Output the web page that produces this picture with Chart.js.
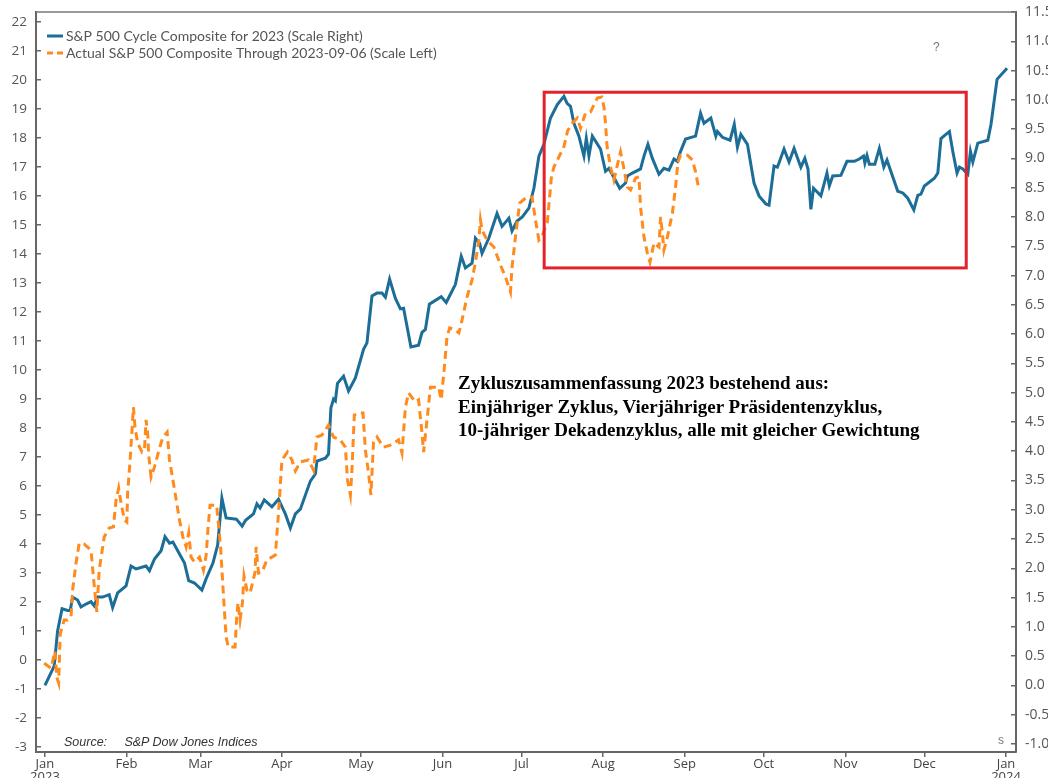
<!DOCTYPE html>
<html>
<head>
<meta charset="utf-8">
<title>S&P 500 Cycle Composite 2023</title>
<script src="https://cdn.jsdelivr.net/npm/chart.js@4.4.1/dist/chart.umd.min.js"></script>
<style>
  html, body { margin: 0; padding: 0; background: #fff; }
  #wrap { position: relative; width: 1048px; height: 778px; overflow: hidden; }
  #note {
    position: absolute; left: 458px; top: 371px;
    font: bold 19px "Liberation Serif", "Times New Roman", serif;
    line-height: 23.5px; color: #000; white-space: nowrap;
  }
  #source {
    position: absolute; left: 64px; top: 735px;
    font: italic 12.5px "Liberation Sans", Arial, sans-serif; color: #333;
    white-space: pre;
  }
  .stray { position: absolute; font: 12px "Liberation Sans", Arial, sans-serif; color: #777; }
</style>
</head>
<body>
<div id="wrap">
  <canvas id="cycleChart" width="1048" height="778"></canvas>
  <div id="note">Zykluszusammenfassung 2023 bestehend aus:<br>Einjähriger Zyklus, Vierjähriger Präsidentenzyklus,<br>10-jähriger Dekadenzyklus, alle mit gleicher Gewichtung</div>
  <div id="source">Source:     S&amp;P Dow Jones Indices</div>
  <div class="stray" style="left:933px; top:40px;">?</div>
  <div class="stray" style="left:998px; top:733px;">s</div>
</div>
<script>
// x values are day of year (0 = 1 Jan 2023)
const monthStarts = [0, 31, 59, 90, 120, 151, 181, 212, 243, 273, 304, 334, 365];
const monthLabels = ["Jan", "Feb", "Mar", "Apr", "May", "Jun", "Jul", "Aug", "Sep", "Oct", "Nov", "Dec", "Jan"];
const yearLabels = { 0: "2023", 12: "2024" };

const leftTicks = [-3, -2, -1, 0, 1, 2, 3, 4, 5, 6, 7, 8, 9, 10, 11, 12, 13, 14, 15, 16, 17, 18, 19, 20, 21, 22];
const rightTicks = [-1.0, -0.5, 0.0, 0.5, 1.0, 1.5, 2.0, 2.5, 3.0, 3.5, 4.0, 4.5, 5.0, 5.5, 6.0, 6.5, 7.0, 7.5, 8.0, 8.5, 9.0, 9.5, 10.0, 10.5, 11.0, 11.5];

// S&P 500 Cycle Composite for 2023 (scale right)
const cycleDays = [0, 3.5, 4.8, 6.5, 8.6, 9.6, 10.5, 12.4, 13.7, 15.6, 17.5, 18.7, 20, 21.9, 24.4, 25.7, 27.6, 30.8, 32.7, 34.6,
  38.4, 39.7, 41.6, 44.1, 45.6, 47.3, 48.6, 53, 54.6, 56.8, 59.6, 61.2, 63.8, 65.6, 67.2, 68.8, 72.7, 74.9, 76.2, 79.2,
  80.5, 81.7, 83.3, 86.2, 88.7, 91.3, 93.2, 95.1, 97, 100.8, 102.7, 103.3, 106.5, 107.7, 108.6, 109.6, 110.3, 111.1, 113.4, 115.3,
  117.9, 121, 122.3, 124.2, 126.1, 128, 129.3, 130.9, 133.1, 135, 136.2, 139, 141.9, 143.2, 144.5, 146, 150.5, 152.4, 154, 155.9,
  158.1, 159.7, 162.2, 163.5, 165.1, 166, 168.6, 171.7, 173.6, 176.2, 177.4, 179.3, 181.3, 183.8, 185.7, 187.6, 189.5, 192, 194.6, 197.1,
  198.3, 199.6, 200.9, 202.8, 204.7, 205.6, 206.6, 207.9, 211, 212.9, 214.2, 218.3, 220.5, 221.2, 223.1, 226.2, 227.5, 229, 230.7, 233.2,
  235.1, 237, 238.9, 240.2, 241.4, 243.3, 247.1, 249, 250.3, 252.9, 254.8, 255.4, 257.3, 260.2, 261.8, 263, 264.3, 266.8, 269.3, 271.2,
  273.8, 275, 276.9, 278.2, 280.7, 282.6, 284.5, 287.1, 288.6, 289.8, 290.9, 291.9, 294.7, 297, 297.9, 299.2, 302.3, 304.6, 307.4, 309.3,
  310.9, 311.4, 312.2, 313.1, 315.2, 316.9, 318.6, 319.8, 323.9, 325.8, 327.7, 330, 331.5, 332.7, 334, 337.8, 339.1, 340.3, 343.5, 344.8,
  346.4, 347.3, 348.6, 350.5, 351.5, 352.4, 354.3, 358.1, 359.3, 361.6, 365.4];
const cycleValues = [0.00, 0.33, 0.93, 1.31, 1.28, 1.28, 1.51, 1.46, 1.34, 1.39, 1.43, 1.36, 1.51, 1.51, 1.55, 1.33, 1.58, 1.70, 2.04, 1.99,
  2.04, 1.96, 2.16, 2.30, 2.54, 2.43, 2.45, 2.09, 1.79, 1.75, 1.63, 1.82, 2.09, 2.40, 3.20, 2.86, 2.84, 2.72, 2.82, 2.93,
  3.10, 3.03, 3.17, 3.05, 3.18, 2.93, 2.69, 2.93, 3.01, 3.49, 3.61, 3.83, 3.88, 3.95, 4.74, 4.89, 4.86, 5.16, 5.28, 5.03,
  5.25, 5.74, 5.85, 6.65, 6.70, 6.70, 6.63, 6.94, 6.61, 6.43, 6.44, 5.78, 5.81, 6.03, 6.08, 6.51, 6.64, 6.54, 6.68, 6.85,
  7.33, 7.13, 7.21, 7.64, 7.55, 7.38, 7.64, 8.06, 7.84, 7.98, 7.76, 7.93, 8.00, 8.15, 8.49, 9.04, 9.24, 9.69, 9.92, 10.06,
  9.94, 9.89, 9.60, 9.38, 9.04, 9.34, 9.04, 9.38, 9.16, 8.78, 8.83, 8.49, 8.58, 8.70, 8.75, 8.82, 9.04, 9.24, 9.00, 8.73,
  8.83, 8.80, 8.99, 8.95, 9.12, 9.33, 9.38, 9.77, 9.60, 9.69, 9.38, 9.46, 9.36, 9.31, 9.58, 9.19, 9.41, 9.24, 8.58, 8.36,
  8.22, 8.20, 8.87, 8.85, 9.16, 8.94, 9.17, 8.85, 9.00, 8.82, 8.13, 8.49, 8.36, 8.75, 8.53, 8.70, 8.71, 8.95, 8.95, 8.99,
  9.04, 8.92, 9.05, 8.90, 8.90, 9.17, 8.85, 8.97, 8.44, 8.41, 8.32, 8.12, 8.37, 8.39, 8.53, 8.66, 8.75, 9.34, 9.46, 9.12,
  8.75, 8.85, 8.82, 8.73, 9.12, 8.94, 9.26, 9.31, 9.58, 10.35, 10.54];

// Actual S&P 500 Composite through 2023-09-06 (scale left)
const actualDays = [-0.3, 2.3, 3.8, 4.5, 5.2, 5.8, 7.3, 8.6, 9.9, 10.5, 11.8, 13, 14.9, 17.5, 18.4, 19.7, 20.6, 22.5, 24.4, 26,
  27, 28, 28.9, 30.2, 31.1, 31.4, 32.3, 33, 33.6, 34.2, 35.2, 36.9, 37.8, 38.4, 39, 39.4, 40.3, 41.6, 43.5, 44.7,
  46.4, 47.3, 48.6, 51.1, 52.4, 53.6, 54.6, 55.5, 56.8, 58.7, 60.2, 61.2, 61.9, 62.7, 65.2, 66.7, 67.6, 68.8, 69.6, 72.2,
  72.7, 73.3, 74.1, 75, 75.6, 76.7, 77.9, 79.8, 80.2, 81.1, 82.4, 84.3, 87.5, 88.7, 90, 92.1, 93.8, 95.1, 97, 100.1,
  102, 103.3, 105.2, 107.7, 109.6, 112.2, 114.1, 114.9, 116, 116.6, 117.5, 119.5, 120.8, 121.7, 122.9, 123.8, 124.8, 126.1, 128.6, 131.2,
  134.3, 135.6, 136.9, 138.1, 140.7, 141.9, 143.2, 143.8, 145.1, 146.4, 149.5, 150.5, 151.5, 152.7, 153.7, 155.5, 157.2, 158.4, 160.3, 162.2,
  163.5, 164.8, 165.4, 166, 167.9, 170.5, 173, 174.9, 176.8, 177.4, 178.7, 180.3, 183.1, 185, 186.3, 187.6, 188.6, 190.8, 192.4, 193.3,
  195, 197.1, 198.5, 200.3, 202.2, 203.4, 205.3, 207.2, 208.5, 209.8, 211.5, 212.3, 212.9, 213.5, 214.8, 216.1, 217.4, 218.6, 219.6, 221.2,
  222.4, 224.3, 225.6, 226.2, 227.5, 228.8, 229.8, 231.3, 233.2, 233.8, 234.5, 235.1, 236.4, 238.3, 239.5, 240.4, 241.4, 244, 245.9, 247.1,
  248.4];
const actualValues = [-0.11, -0.28, 0.30, -0.60, -0.79, 0.90, 1.38, 1.38, 1.48, 2.41, 3.34, 4.03, 4.00, 3.79, 2.86, 1.66, 3.10, 4.24, 4.55, 4.59,
  5.52, 5.93, 5.41, 4.83, 4.76, 5.76, 6.83, 7.83, 8.72, 8.03, 7.48, 7.17, 7.24, 8.28, 7.83, 7.07, 6.31, 6.66, 7.31, 7.66,
  7.86, 6.90, 6.21, 4.83, 4.24, 3.90, 4.38, 3.55, 3.38, 3.55, 3.10, 3.60, 4.50, 5.34, 5.34, 3.90, 2.52, 0.79, 0.45, 0.45,
  1.28, 1.97, 1.38, 1.97, 2.90, 2.41, 2.31, 3.03, 3.90, 3.00, 3.03, 3.45, 3.62, 5.07, 6.90, 7.17, 6.90, 6.52, 6.83, 6.90,
  6.55, 7.69, 7.76, 8.10, 7.69, 7.59, 7.34, 6.21, 5.69, 6.55, 8.45, 8.52, 8.52, 7.24, 6.45, 5.69, 7.52, 7.69, 7.34, 7.41,
  7.59, 7.14, 8.72, 9.21, 8.90, 8.97, 7.83, 7.17, 8.28, 9.41, 9.41, 8.97, 9.90, 11.14, 11.45, 11.40, 11.28, 11.72, 12.52, 13.10,
  13.72, 14.48, 15.17, 14.83, 14.48, 14.24, 13.62, 13.21, 12.69, 13.55, 14.59, 15.76, 15.97, 15.97, 15.17, 14.48, 14.57, 15.10, 16.70, 17.00,
  17.31, 17.70, 18.25, 18.52, 18.69, 18.34, 18.86, 18.90, 19.14, 19.38, 19.41, 19.07, 18.50, 17.69, 17.00, 16.55, 17.07, 17.52, 17.07, 16.31,
  16.21, 16.62, 16.66, 15.62, 14.59, 14.03, 13.72, 14.38, 14.24, 15.28, 14.72, 14.14, 14.59, 15.41, 16.31, 17.17, 17.41, 17.41, 17.24, 16.83,
  16.21];

// highlighted window (days, right-scale levels)
const boxDays = [189.6, 349.9];
const boxLevels = [7.13, 10.13];

const BLUE = "#1c6d97";
const ORANGE = "#ff8a1d";

// the scales should not push the plot area around
function noScalePadding(s) {
  s.paddingTop = 0;
  s.paddingBottom = 0;
  s.paddingLeft = 0;
  s.paddingRight = 0;
}

const frameAndLegend = {
  id: "frameAndLegend",
  afterDatasetsDraw(chart) {
    const { ctx, chartArea, scales } = chart;
    ctx.save();
    // red box
    const x1 = scales.x.getPixelForValue(boxDays[0]);
    const x2 = scales.x.getPixelForValue(boxDays[1]);
    const y1 = scales.y1.getPixelForValue(boxLevels[1]);
    const y2 = scales.y1.getPixelForValue(boxLevels[0]);
    ctx.strokeStyle = "#e3232c";
    ctx.lineWidth = 3;
    ctx.strokeRect(x1, y1, x2 - x1, y2 - y1);
    // top frame line
    ctx.strokeStyle = "#777";
    ctx.lineWidth = 1.5;
    ctx.beginPath();
    ctx.moveTo(chartArea.left, chartArea.top);
    ctx.lineTo(chartArea.right, chartArea.top);
    ctx.stroke();
    // legend
    ctx.font = "14px Lato, 'Open Sans', sans-serif";
    ctx.textBaseline = "middle";
    ctx.fillStyle = "#555";
    chart.data.datasets.forEach((ds, i) => {
      const y = 36 + i * 17;
      ctx.strokeStyle = ds.borderColor;
      ctx.lineWidth = 3;
      ctx.setLineDash(ds.borderDash ? [6, 4] : []);
      ctx.beginPath();
      ctx.moveTo(47, y);
      ctx.lineTo(63, y);
      ctx.stroke();
      ctx.setLineDash([]);
      ctx.fillText(ds.label, 66, y);
    });
    ctx.restore();
  }
};

const ctx = document.getElementById("cycleChart").getContext("2d");
const cycleChart = new Chart(ctx, {
  type: "line",
  data: {
    datasets: [
      {
        label: "S&P 500 Cycle Composite for 2023 (Scale Right)",
        data: cycleDays.map((d, i) => ({ x: d, y: cycleValues[i] })),
        yAxisID: "y1",
        borderColor: BLUE,
        borderWidth: 3,
        pointRadius: 0,
        tension: 0,
        order: 1
      },
      {
        label: "Actual S&P 500 Composite Through 2023-09-06 (Scale Left)",
        data: actualDays.map((d, i) => ({ x: d, y: actualValues[i] })),
        yAxisID: "y",
        borderColor: ORANGE,
        borderWidth: 3,
        borderDash: [8, 5],
        pointRadius: 0,
        tension: 0,
        order: 0
      }
    ]
  },
  options: {
    responsive: false,
    animation: false,
    layout: { padding: { top: 12, left: 0, right: 0, bottom: 0 } },
    plugins: { legend: { display: false }, tooltip: { enabled: false } },
    scales: {
      x: {
        type: "linear",
        min: -3.4,
        max: 368.8,
        afterBuildTicks: (s) => { s.ticks = monthStarts.map((v) => ({ value: v })); },
        afterFit: (s) => { s.height = 26; noScalePadding(s); },
        ticks: {
          autoSkip: false,
          maxRotation: 0,
          padding: 1,
          color: "#444",
          font: { family: "'Liberation Sans Narrow', 'Open Sans', sans-serif", size: 13, lineHeight: 1.0 },
          callback: (v, i) => (yearLabels[i] ? [monthLabels[i], yearLabels[i]] : monthLabels[i])
        },
        grid: { drawOnChartArea: false, tickLength: 5, color: "#666", lineWidth: 1.5 },
        border: { color: "#666", width: 2 }
      },
      y: {
        position: "left",
        min: -3.17,
        max: 22.345,
        afterBuildTicks: (s) => { s.ticks = leftTicks.map((v) => ({ value: v })); },
        afterFit: (s) => { s.width = 36; noScalePadding(s); },
        ticks: { autoSkip: false, padding: 14, color: "#555", font: { family: "'Open Sans', sans-serif", size: 13.5 } },
        grid: { drawOnChartArea: false, tickLength: -5, color: "#666", lineWidth: 1.5 },
        border: { color: "#666", width: 2 }
      },
      y1: {
        position: "right",
        min: -1.136,
        max: 11.5,
        afterBuildTicks: (s) => { s.ticks = rightTicks.map((v) => ({ value: v })); },
        afterFit: (s) => { s.width = 32; noScalePadding(s); },
        ticks: {
          autoSkip: false, padding: 14, color: "#555",
          font: { family: "'Open Sans', sans-serif", size: 14 },
          callback: (v) => v.toFixed(1)
        },
        grid: { drawOnChartArea: false, tickLength: -5, color: "#666", lineWidth: 1.5 },
        border: { color: "#666", width: 2 }
      }
    }
  },
  plugins: [frameAndLegend]
});
</script>
</body>
</html>
